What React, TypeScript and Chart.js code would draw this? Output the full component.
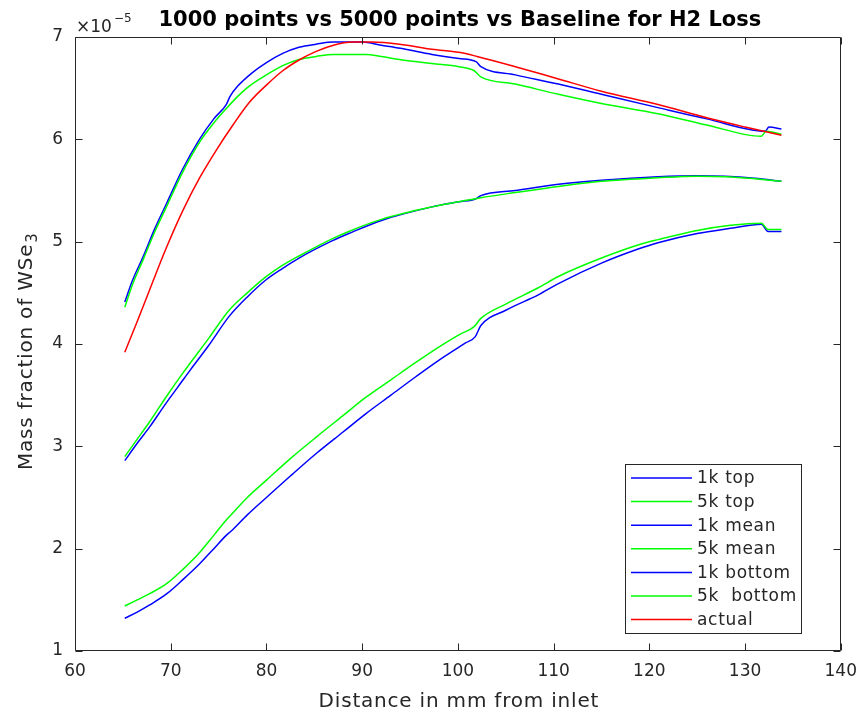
import React, { useEffect, useRef } from "react";
import { Chart, registerables } from "chart.js";

Chart.register(...registerables);

// ---- Data (mass fraction values in units of 1e-5) ----
const xTop1k = [65.2, 66, 67.1, 68.3, 69.6, 71.2, 73, 74.5, 75.8, 76.2, 77, 78.5, 80, 81.7, 83.4, 85.2, 87, 90, 92, 94, 97.3, 100.1, 101.9, 102.4, 106, 110.5, 115, 120.9, 126, 132.1, 132.5, 133.8];
const yTop1k = [4.41, 4.62, 4.85, 5.12, 5.38, 5.7, 6.0, 6.2, 6.34, 6.42, 6.52, 6.65, 6.75, 6.84, 6.9, 6.93, 6.95, 6.95, 6.92, 6.89, 6.83, 6.79, 6.76, 6.71, 6.63, 6.54, 6.44, 6.31, 6.2, 6.08, 6.12, 6.1];

const xTop5k = [65.2, 66, 67.1, 68.3, 69.6, 71.2, 73, 74.5, 75.8, 77, 78.2, 80, 81.7, 83.4, 85.2, 87, 90.4, 92, 93.9, 97.3, 100.1, 101.7, 102.4, 106, 110.5, 115, 120.9, 126, 131.7, 132.2, 133.8];
const yTop5k = [4.36, 4.58, 4.82, 5.09, 5.35, 5.67, 5.97, 6.16, 6.3, 6.42, 6.52, 6.63, 6.72, 6.78, 6.81, 6.83, 6.83, 6.81, 6.78, 6.74, 6.71, 6.67, 6.61, 6.54, 6.44, 6.35, 6.25, 6.14, 6.03, 6.08, 6.05];

const xMean1k = [65.2, 66.5, 67.8, 69.5, 71.3, 72, 74, 76.1, 78, 80, 81.7, 83.4, 86.9, 88.6, 92.1, 97.3, 100.1, 101.9, 102.4, 106, 110.5, 115, 120.9, 125, 127.9, 131, 133.8];
const yMean1k = [2.86, 3.03, 3.19, 3.42, 3.65, 3.74, 3.99, 4.27, 4.46, 4.63, 4.74, 4.84, 5.01, 5.08, 5.21, 5.34, 5.39, 5.42, 5.45, 5.5, 5.56, 5.6, 5.635, 5.645, 5.64, 5.62, 5.59];

const xMean5k = [65.2, 66.5, 67.8, 69.5, 71.3, 74, 76.1, 78, 80, 81.7, 83.4, 86.9, 88.6, 92.1, 97.3, 100.1, 102.4, 106, 110.5, 115, 120.9, 125, 128, 131, 133.8];
const yMean5k = [2.9, 3.07, 3.24, 3.48, 3.72, 4.06, 4.33, 4.5, 4.66, 4.77, 4.86, 5.03, 5.1, 5.22, 5.34, 5.39, 5.43, 5.48, 5.54, 5.59, 5.625, 5.64, 5.635, 5.615, 5.59];

const xBot1k = [65.2, 66.5, 67.8, 69.6, 71.3, 73, 74.5, 75.8, 76.3, 78, 80, 82.5, 85.2, 88, 90.4, 93, 95.6, 98, 100.8, 101.8, 102.4, 105, 108.4, 110.5, 115, 118.9, 120.9, 125, 128.5, 131.7, 132.4, 133.8];
const yBot1k = [1.32, 1.38, 1.45, 1.56, 1.7, 1.85, 2.0, 2.13, 2.17, 2.33, 2.5, 2.71, 2.93, 3.14, 3.32, 3.5, 3.68, 3.84, 4.01, 4.07, 4.18, 4.33, 4.48, 4.59, 4.79, 4.93, 4.99, 5.08, 5.13, 5.17, 5.1, 5.1];

const xBot5k = [65.2, 66.5, 67.8, 69.6, 71.3, 73, 74.5, 75.8, 76.3, 78, 80, 82.5, 85.2, 88, 90.4, 93, 95.6, 98, 100.1, 101.7, 102.4, 105, 108.4, 110.5, 115, 118.9, 120.9, 125, 128.5, 131.7, 132.4, 133.8];
const yBot5k = [1.44, 1.5, 1.56, 1.66, 1.8, 1.96, 2.13, 2.28, 2.33, 2.5, 2.67, 2.88, 3.09, 3.3, 3.48, 3.65, 3.82, 3.97, 4.09, 4.17, 4.25, 4.39, 4.55, 4.66, 4.84, 4.97, 5.02, 5.11, 5.16, 5.18, 5.12, 5.12];

const xActual = [65.2, 66.5, 67.8, 69.5, 71.3, 73, 74.8, 76.5, 78.2, 80, 81.7, 83.5, 85.2, 87, 89, 91, 93.9, 97.3, 100.1, 102, 106, 110.5, 115, 120.9, 126, 130, 133.8];
const yActual = [3.92, 4.22, 4.53, 4.93, 5.31, 5.62, 5.9, 6.14, 6.36, 6.53, 6.67, 6.78, 6.86, 6.92, 6.95, 6.95, 6.93, 6.88, 6.85, 6.81, 6.71, 6.59, 6.47, 6.34, 6.21, 6.12, 6.04];

const seriesLabels = ["1k top", "5k top", "1k mean", "5k mean", "1k bottom", "5k  bottom", "actual"];
const seriesColors = ["#0000ff", "#00ff00", "#0000ff", "#00ff00", "#0000ff", "#00ff00", "#ff0000"];
const seriesX = [xTop1k, xTop5k, xMean1k, xMean5k, xBot1k, xBot5k, xActual];
const seriesY = [yTop1k, yTop5k, yMean1k, yMean5k, yBot1k, yBot5k, yActual];

const xTicks = [60, 70, 80, 90, 100, 110, 120, 130, 140];
const yTicks = [1, 2, 3, 4, 5, 6, 7];

const titleText = "1000 points vs 5000 points vs Baseline for H2 Loss";
const xLabelText = "Distance in mm from inlet";
const yLabelMain = "Mass fraction of WSe";
const yLabelSub = "3";

const FONT = "'DejaVu Sans', sans-serif";
const AXIS_COLOR = "#262626";

const matlabPlugin = {
  id: "matlabDecor",
  afterDraw(chart: any) {
    const { ctx, chartArea: a, scales } = chart;
    const L = Math.round(a.left) + 0.5;
    const R = Math.round(a.right) - 0.5;
    const T = Math.round(a.top) + 0.5;
    const B = Math.round(a.bottom) - 0.5;
    ctx.save();
    // box
    ctx.strokeStyle = AXIS_COLOR;
    ctx.lineWidth = 1;
    ctx.beginPath();
    ctx.rect(L, T, R - L, B - T);
    ctx.stroke();
    // inward ticks
    const tl = 7;
    ctx.beginPath();
    xTicks.forEach((v) => {
      const px = Math.round(scales.x.getPixelForValue(v)) + 0.5;
      ctx.moveTo(px, B);
      ctx.lineTo(px, B - tl);
      ctx.moveTo(px, T);
      ctx.lineTo(px, T + tl);
    });
    yTicks.forEach((v) => {
      const py = Math.round(scales.y.getPixelForValue(v)) + 0.5;
      ctx.moveTo(L, py);
      ctx.lineTo(L + tl, py);
      ctx.moveTo(R, py);
      ctx.lineTo(R - tl, py);
    });
    ctx.stroke();

    const setSpacing = (s: string) => {
      try {
        (ctx as any).letterSpacing = s;
      } catch (e) {
        /* ignore */
      }
    };

    // title
    const cx = (a.left + a.right) / 2;
    ctx.fillStyle = "#000000";
    ctx.font = `bold 21px ${FONT}`;
    ctx.textAlign = "center";
    ctx.textBaseline = "alphabetic";
    setSpacing("0px");
    ctx.fillText(titleText, cx + 2, 26);

    // x label
    ctx.fillStyle = AXIS_COLOR;
    ctx.font = `20px ${FONT}`;
    setSpacing("0.8px");
    ctx.fillText(xLabelText, cx + 1, 707);

    // exponent
    setSpacing("0px");
    ctx.textAlign = "left";
    ctx.font = `17px ${FONT}`;
    ctx.fillText("\u00d710", a.left + 1, 32);
    const w10 = ctx.measureText("\u00d710").width;
    ctx.font = `12px ${FONT}`;
    ctx.fillText("\u22125", a.left + 1 + w10 + 2, 22);

    // y label
    ctx.save();
    ctx.translate(32, 470);
    ctx.rotate(-Math.PI / 2);
    ctx.font = `20px ${FONT}`;
    setSpacing("0.8px");
    ctx.textAlign = "left";
    ctx.fillText(yLabelMain, 0, 0);
    const wm = ctx.measureText(yLabelMain).width;
    ctx.font = `15px ${FONT}`;
    ctx.fillText(yLabelSub, wm + 1, 5);
    ctx.restore();

    // legend
    const lw = 176, lh = 169;
    const lx = Math.round(a.right) - 40 - lw;
    const ly = Math.round(a.bottom) - 18 - lh;
    ctx.fillStyle = "#ffffff";
    ctx.fillRect(lx, ly, lw, lh);
    ctx.strokeStyle = AXIS_COLOR;
    ctx.lineWidth = 1;
    ctx.strokeRect(lx + 0.5, ly + 0.5, lw, lh);
    ctx.font = `17px ${FONT}`;
    setSpacing("0.7px");
    ctx.textBaseline = "middle";
    ctx.textAlign = "left";
    chart.data.datasets.forEach((ds: any, i: number) => {
      const yy = ly + 14 + i * 23.6;
      ctx.strokeStyle = ds.borderColor;
      ctx.lineWidth = 1.5;
      ctx.beginPath();
      ctx.moveTo(lx + 6, yy);
      ctx.lineTo(lx + 67, yy);
      ctx.stroke();
      ctx.fillStyle = AXIS_COLOR;
      ctx.fillText(ds.label, lx + 72, yy + 1);
    });
    setSpacing("0px");
    ctx.restore();
  },
};

export default function App() {
  const canvasRef = useRef<HTMLCanvasElement | null>(null);

  useEffect(() => {
    if (!canvasRef.current) return;
    const datasets = seriesLabels.map((label, i) => ({
      label,
      data: seriesX[i].map((x, j) => ({ x, y: seriesY[i][j] })),
      borderColor: seriesColors[i],
      backgroundColor: seriesColors[i],
      borderWidth: 1.5,
      pointRadius: 0,
      cubicInterpolationMode: "monotone" as const,
      fill: false,
      order: seriesLabels.length - i,
    }));
    const chart = new Chart(canvasRef.current, {
      type: "line",
      data: { datasets },
      options: {
        animation: false,
        responsive: true,
        maintainAspectRatio: false,
        layout: { padding: { left: 0, top: 37, right: 24, bottom: 0 } },
        plugins: {
          legend: { display: false },
          title: { display: false },
          tooltip: { enabled: false },
        },
        scales: {
          x: {
            type: "linear",
            min: 60,
            max: 140,
            afterBuildTicks: (s: any) => {
              s.ticks = xTicks.map((v) => ({ value: v }));
            },
            afterFit: (s: any) => {
              s.height = 62;
            },
            ticks: {
              padding: 10,
              color: AXIS_COLOR,
              font: { family: FONT, size: 17 },
              maxRotation: 0,
            },
            grid: { display: false, drawTicks: false },
            border: { display: false },
          },
          y: {
            type: "linear",
            min: 1,
            max: 7,
            afterBuildTicks: (s: any) => {
              s.ticks = yTicks.map((v) => ({ value: v }));
            },
            afterFit: (s: any) => {
              s.width = 75;
            },
            ticks: {
              padding: 12,
              color: AXIS_COLOR,
              font: { family: FONT, size: 17 },
            },
            grid: { display: false, drawTicks: false },
            border: { display: false },
          },
        },
      },
      plugins: [matlabPlugin],
    });
    return () => chart.destroy();
  }, []);

  return (
    <div style={{ position: "fixed", left: 0, top: 0, width: 867, height: 713, background: "#ffffff" }}>
      <canvas ref={canvasRef} />
    </div>
  );
}
